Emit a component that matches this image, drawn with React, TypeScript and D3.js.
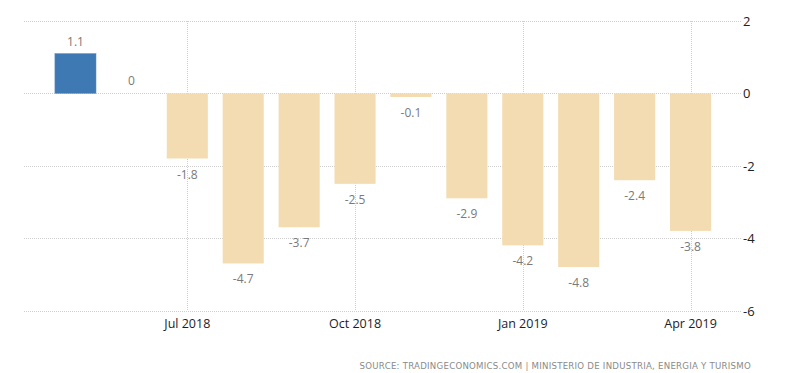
import { useRef, useEffect } from "react";
import * as d3 from "d3";

// Monthly values, May 2018 .. Apr 2019
const months = ["May 2018", "Jun 2018", "Jul 2018", "Aug 2018", "Sep 2018", "Oct 2018",
  "Nov 2018", "Dec 2018", "Jan 2019", "Feb 2019", "Mar 2019", "Apr 2019"];
const values = [1.1, 0, -1.8, -4.7, -3.7, -2.5, -0.1, -2.9, -4.2, -4.8, -2.4, -3.8];
const yTicks = [2, 0, -2, -4, -6];
const xTickLabels = ["Jul 2018", "Oct 2018", "Jan 2019", "Apr 2019"];
const sourceText = "SOURCE: TRADINGECONOMICS.COM | MINISTERIO DE INDUSTRIA, ENERGIA Y TURISMO";

export default function App() {
  const ref = useRef<SVGSVGElement>(null);

  useEffect(() => {
    const width = 800;
    const height = 373;
    const svg = d3.select(ref.current)
      .attr("width", width)
      .attr("height", height);
    svg.selectAll("*").remove();

    const font = "'Open Sans', 'DejaVu Sans', sans-serif";

    const y = d3.scaleLinear().domain([-6, 2]).range([310.5, 21]);
    const x = d3.scaleBand<string>()
      .domain(months)
      .range([47.5, 718.5])
      .paddingInner(0.265)
      .paddingOuter(0.1325);

    const center = (m: string) => (x(m) as number) + x.bandwidth() / 2;

    // horizontal grid
    svg.append("g")
      .selectAll("line")
      .data(yTicks)
      .enter()
      .append("line")
      .attr("x1", 24)
      .attr("x2", 742)
      .attr("y1", d => Math.round(y(d)) + 0.5)
      .attr("y2", d => Math.round(y(d)) + 0.5)
      .attr("stroke", "#cfcfcf")
      .attr("stroke-dasharray", "1,1");

    // vertical grid
    svg.append("g")
      .selectAll("line")
      .data(xTickLabels)
      .enter()
      .append("line")
      .attr("x1", d => Math.round(center(d)) + 0.5)
      .attr("x2", d => Math.round(center(d)) + 0.5)
      .attr("y1", y(2))
      .attr("y2", y(-6))
      .attr("stroke", "#cfcfcf")
      .attr("stroke-dasharray", "1,1");

    // bars
    svg.append("g")
      .selectAll("rect")
      .data(values)
      .enter()
      .append("rect")
      .attr("x", (d, i) => x(months[i]) as number)
      .attr("width", x.bandwidth())
      .attr("y", d => y(Math.max(0, d)))
      .attr("height", d => Math.abs(y(d) - y(0)))
      .attr("fill", d => d > 0 ? "#3f79b4" : "#f3dcb1")
      .attr("stroke", d => d > 0 ? "#5a8fc4" : "none")
      .attr("stroke-width", 0.5);

    // value labels
    svg.append("g")
      .selectAll("text")
      .data(values)
      .enter()
      .append("text")
      .attr("x", (d, i) => center(months[i]))
      .attr("y", d => d >= 0 ? y(d) - 8 : y(d) + 20)
      .attr("text-anchor", "middle")
      .attr("font-family", font)
      .attr("font-size", 12)
      .attr("fill", "#7a7a7a")
      .text(d => String(d));

    // right axis labels
    svg.append("g")
      .selectAll("text")
      .data(yTicks)
      .enter()
      .append("text")
      .attr("x", 743)
      .attr("y", d => y(d) + 5)
      .attr("font-family", font)
      .attr("font-size", 13)
      .attr("fill", "#222")
      .text(d => String(d));

    // x axis labels
    svg.append("g")
      .selectAll("text")
      .data(xTickLabels)
      .enter()
      .append("text")
      .attr("x", d => center(d))
      .attr("y", 328)
      .attr("text-anchor", "middle")
      .attr("font-family", font)
      .attr("font-size", 12.5)
      .attr("fill", "#1c1c2c")
      .text(d => d);

    // source
    svg.append("text")
      .attr("x", 751)
      .attr("y", 369)
      .attr("text-anchor", "end")
      .attr("font-family", "'DejaVu Sans', sans-serif")
      .attr("font-size", 8.6)
      .attr("letter-spacing", 0.25)
      .attr("fill", "#8a8a8a")
      .text(sourceText);
  }, []);

  return (
    <div style={{ position: "absolute", left: 0, top: 0 }}>
      <svg ref={ref} style={{ display: "block" }} />
    </div>
  );
}
